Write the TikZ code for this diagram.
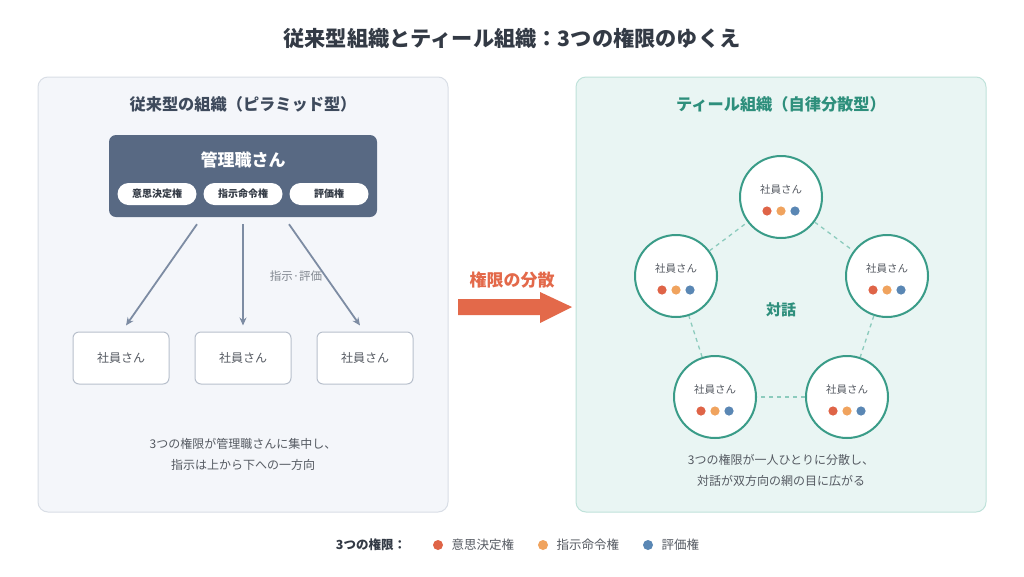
\documentclass[tikz,border=0pt]{standalone}
\usepackage{fontspec}
\setmainfont{Noto Sans CJK JP}
\usepackage{xcolor}
\usepackage{tikz}
\usetikzlibrary{arrows.meta, positioning, calc}
\definecolor{txtdark}{RGB}{51,58,69}
\definecolor{txtgray}{RGB}{85,90,98}
\definecolor{lblgray}{RGB}{130,136,145}
\definecolor{oldfill}{RGB}{244,246,250}
\definecolor{oldedge}{RGB}{217,222,230}
\definecolor{oldtitle}{RGB}{62,74,92}
\definecolor{mgrslate}{RGB}{88,105,131}
\definecolor{arrslate}{RGB}{125,140,163}
\definecolor{empedge}{RGB}{184,192,204}
\definecolor{tealfill}{RGB}{233,245,243}
\definecolor{tealedge}{RGB}{191,226,218}
\definecolor{tealdark}{RGB}{46,143,124}
\definecolor{tealring}{RGB}{58,156,136}
\definecolor{teallight}{RGB}{140,203,189}
\definecolor{shiftred}{RGB}{227,105,74}
\definecolor{dotred}{RGB}{223,100,71}
\definecolor{dotorange}{RGB}{240,163,94}
\definecolor{dotblue}{RGB}{90,135,180}
\tikzset{
  panelbox/.style={rectangle, minimum width=410pt, minimum height=435pt,
    rounded corners=10pt, line width=1pt},
  paneltitle/.style={font=\fontsize{16.2}{19}\selectfont\bfseries},
  mgrbox/.style={rectangle, fill=mgrslate, minimum width=268pt, minimum height=82pt,
    rounded corners=7pt},
  pill/.style={rectangle, fill=white, minimum width=79pt, minimum height=22pt,
    rounded corners=11pt, text=txtdark, font=\fontsize{10}{12}\selectfont\bfseries, inner sep=0pt},
  empbox/.style={rectangle, draw=empedge, fill=white, minimum width=96pt, minimum height=52pt,
    rounded corners=6pt, line width=1pt, text=txtgray, font=\fontsize{12}{14}\selectfont},
  member/.style={circle, draw=tealring, fill=white, minimum size=82pt, line width=2pt, inner sep=0pt},
  caption/.style={align=center, text=txtgray, font=\fontsize{12}{21}\selectfont},
  arrow/.style={-{Stealth[length=8pt,width=7pt]}, line width=1.8pt, color=arrslate},
  talk/.style={dashed, dash pattern=on 4pt off 4pt, line width=1.3pt, color=teallight}
}
\begin{document}
\begin{tikzpicture}[x=1pt, y=-1pt]
  \fill[white] (0,0) rectangle (1024,576);
  \useasboundingbox (0,0) rectangle (1024,576);

  \node[text=txtdark, font=\fontsize{21.2}{25}\selectfont\bfseries] (title) at (512,38)
    {従来型組織とティール組織：3つの権限のゆくえ};

  % Traditional organisation
  \node[panelbox, draw=oldedge, fill=oldfill] (oldorg) at (243,294.5) {};
  \node[paneltitle, text=oldtitle] (oldtitle) at (243,104) {従来型の組織（ピラミッド型）};
  \node[mgrbox] (mgr) at (243,176) {};
  \node[text=white, font=\fontsize{17}{20}\selectfont\bfseries] (mgrname) at (243,160) {管理職さん};
  \node[pill] (p1) at (157,194) {意思決定権};
  \node[pill] (p2) at (243,194) {指示命令権};
  \node[pill] (p3) at (329,194) {評価権};

  \node[empbox] (e1) at (121,358) {社員さん};
  \node[empbox] (e2) at (243,358) {社員さん};
  \node[empbox] (e3) at (365,358) {社員さん};

  \draw[arrow] ([xshift=-46pt,yshift=-7pt]mgr.south) -- ([xshift=5pt,yshift=6pt]e1.north);
  \draw[arrow] ([yshift=-7pt]mgr.south) -- ([yshift=6pt]e2.north);
  \draw[arrow] ([xshift=46pt,yshift=-7pt]mgr.south) -- ([xshift=-5pt,yshift=6pt]e3.north);
  \node[text=lblgray, font=\fontsize{11.5}{13}\selectfont] (order) at (296,276) {指示·評価};

  \node[caption] (oldcap) at (243,454) {3つの権限が管理職さんに集中し、\\指示は上から下への一方向};

  % Shift arrow
  \node[text=shiftred, font=\fontsize{17}{20}\selectfont\bfseries] (shift) at (512,280) {権限の分散};
  \fill[shiftred] (458,299) -- (540,299) -- (540,292) -- (572,307) -- (540,323)
    -- (540,315) -- (458,315) -- cycle;

  % Teal organisation
  \node[panelbox, draw=tealedge, fill=tealfill] (tealorg) at (781,294.5) {};
  \node[paneltitle, text=tealdark] (tealtitle) at (781,104) {ティール組織（自律分散型）};

  \node[member] (m1) at (781,197) {};
  \node[member] (m2) at (887,276) {};
  \node[member] (m3) at (847,397) {};
  \node[member] (m4) at (715,397) {};
  \node[member] (m5) at (676,276) {};

  \draw[talk] (m1) -- (m2);
  \draw[talk] (m2) -- (m3);
  \draw[talk] (m3) -- (m4);
  \draw[talk] (m4) -- (m5);
  \draw[talk] (m5) -- (m1);

  \foreach \m in {m1,m2,m3,m4,m5} {
    \node[text=txtgray, font=\fontsize{10.5}{12}\selectfont] at ([yshift=7pt]\m.center) {社員さん};
    \fill[dotred] ([xshift=-14pt,yshift=-14pt]\m.center) circle (4.6pt);
    \fill[dotorange] ([yshift=-14pt]\m.center) circle (4.6pt);
    \fill[dotblue] ([xshift=14pt,yshift=-14pt]\m.center) circle (4.6pt);
  }
  \node[text=tealdark, font=\fontsize{15}{18}\selectfont\bfseries] (dialog) at (781,310) {対話};

  \node[caption] (tealcap) at (781,470) {3つの権限が一人ひとりに分散し、\\対話が双方向の網の目に広がる};

  % Legend
  \node[text=txtdark, font=\fontsize{12.5}{15}\selectfont\bfseries] (legend) at (371,545) {3つの権限：};
  \fill[dotred] (438,545) circle (5pt);
  \node[anchor=west, text=txtgray, font=\fontsize{12.5}{15}\selectfont] (l1) at (448,545) {意思決定権};
  \fill[dotorange] (543,545) circle (5pt);
  \node[anchor=west, text=txtgray, font=\fontsize{12.5}{15}\selectfont] (l2) at (553,545) {指示命令権};
  \fill[dotblue] (648,545) circle (5pt);
  \node[anchor=west, text=txtgray, font=\fontsize{12.5}{15}\selectfont] (l3) at (658,545) {評価権};
\end{tikzpicture}
\end{document}
